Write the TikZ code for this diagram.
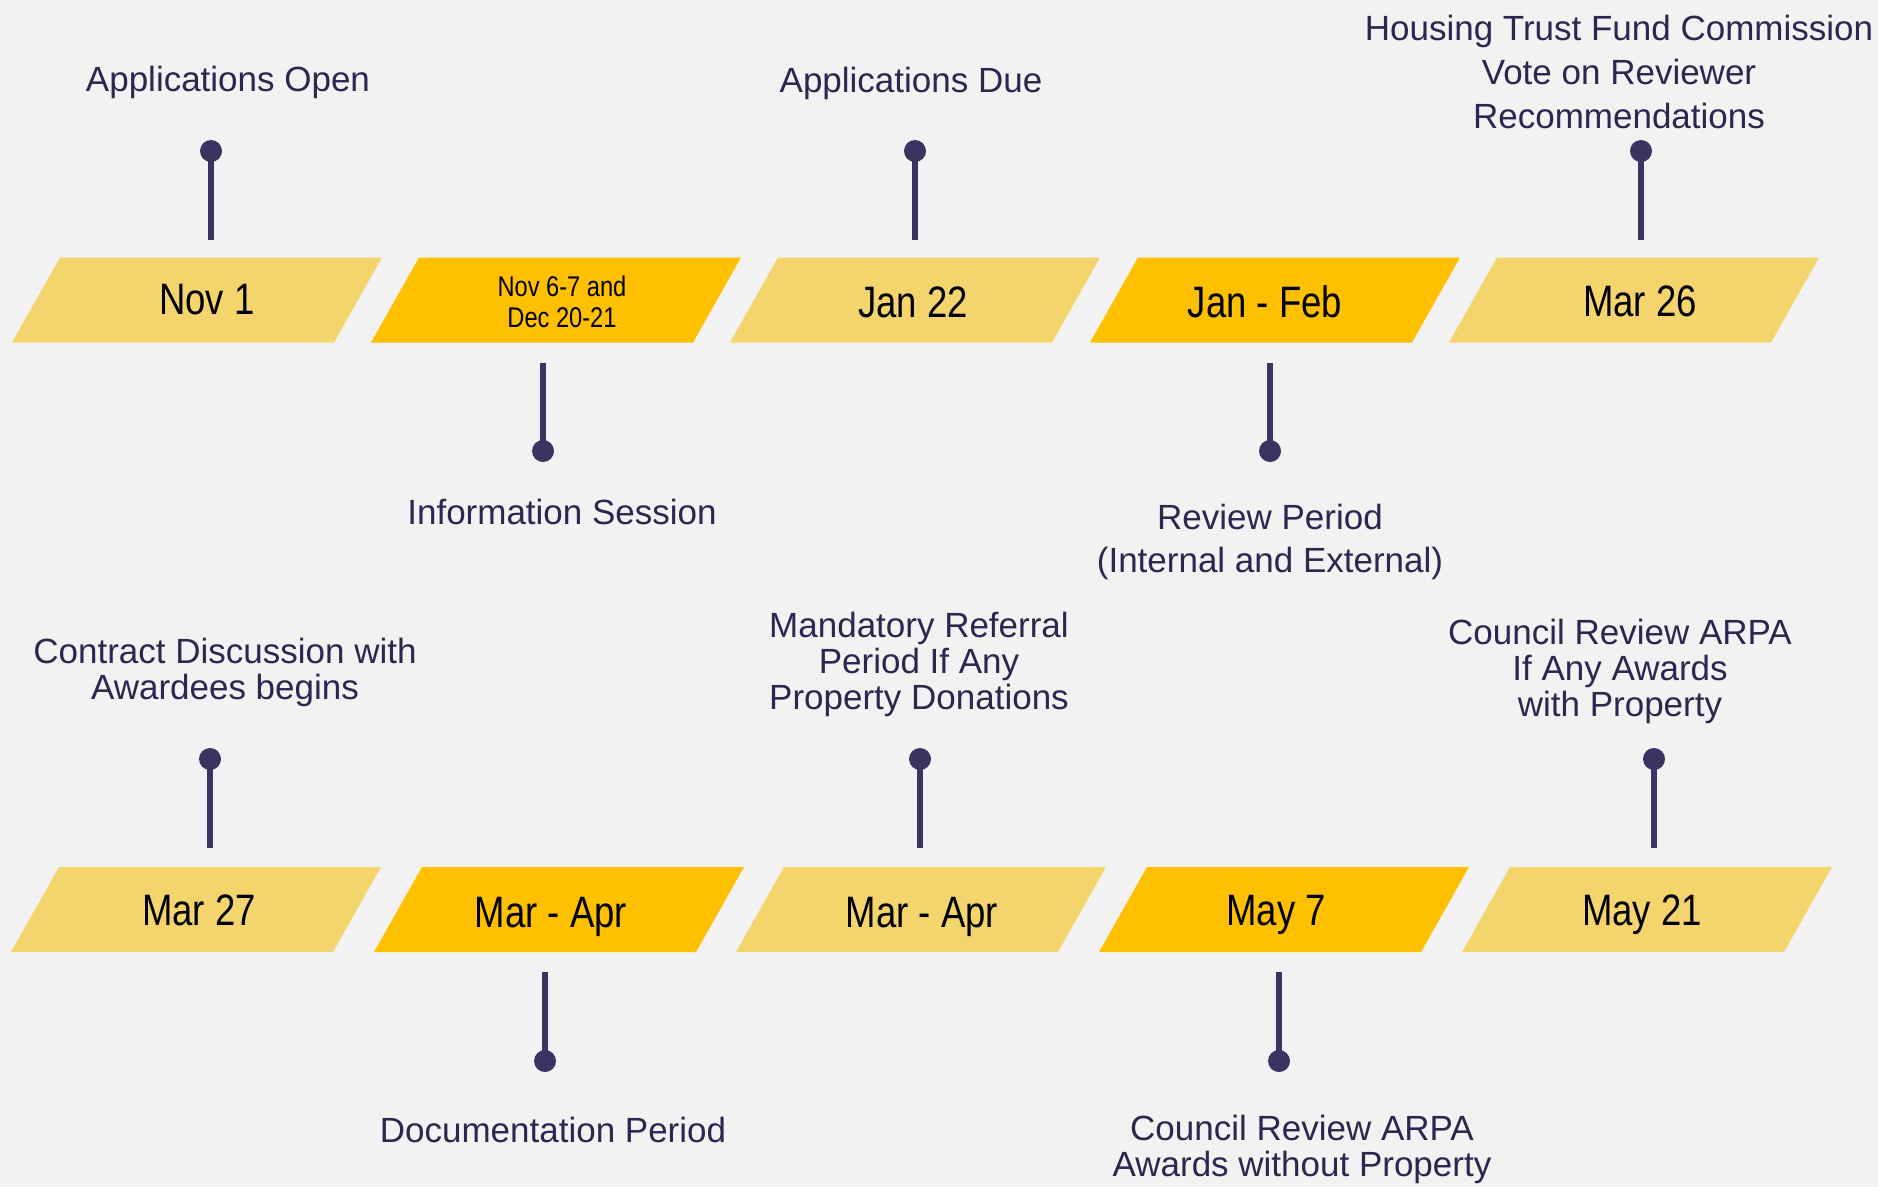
\documentclass[tikz,border=0pt]{standalone}
\usepackage{fontspec}
\setmainfont{Liberation Sans}
\newfontfamily\narrowfont{Liberation Sans}[FakeStretch=0.83]

\definecolor{bgcol}{HTML}{F2F2F2}
\definecolor{paleslab}{HTML}{F4D46C}
\definecolor{deepslab}{HTML}{FFC000}
\definecolor{pincol}{HTML}{3C3363}
\definecolor{labelcol}{HTML}{2B2850}

\tikzset{
  pics/slab/.style={code={
    \fill[#1] (-137,-42.5) -- (185,-42.5) -- (137,42.5) -- (-185,42.5) -- cycle;
  }},
  lbl/.style={text=labelcol, font=\fontsize{35}{36}\selectfont, align=center, inner sep=0pt},
  datelbl/.style={text=black, font=\narrowfont\fontsize{44}{44}\selectfont, inner sep=0pt},
  smalldate/.style={text=black, font=\narrowfont\fontsize{28.5}{31}\selectfont, align=center, inner sep=0pt},
  pindot/.style={circle, fill=pincol, minimum size=22pt, inner sep=0pt},
  stem/.style={draw=pincol, line width=6pt}
}

\begin{document}
\begin{tikzpicture}[x=1pt,y=-1pt]
  \fill[bgcol] (0,0) rectangle (1878,1187);
  \useasboundingbox (0,0) rectangle (1878,1187);

  % ---- first row of date slabs ----
  \pic at (197,300)  {slab=paleslab};
  \pic at (556,300)  {slab=deepslab};
  \pic at (915,300)  {slab=paleslab};
  \pic at (1275,300) {slab=deepslab};
  \pic at (1634,300) {slab=paleslab};

  \node[datelbl]   (d1) at (207,300)  {Nov 1};
  \node[smalldate] (d2) at (562,302)  {Nov 6-7 and\\Dec 20-21};
  \node[datelbl]   (d3) at (913,302)  {Jan 22};
  \node[datelbl]   (d4) at (1265,302) {Jan - Feb};
  \node[datelbl]   (d5) at (1640,301) {Mar 26};

  % ---- second row of date slabs ----
  \pic at (196,909.5)  {slab=paleslab};
  \pic at (559,909.5)  {slab=deepslab};
  \pic at (921,909.5)  {slab=paleslab};
  \pic at (1284,909.5) {slab=deepslab};
  \pic at (1647,909.5) {slab=paleslab};

  \node[datelbl] (d6)  at (199,910)  {Mar 27};
  \node[datelbl] (d7)  at (551,916.5)  {Mar - Apr};
  \node[datelbl] (d8)  at (922,916.5)  {Mar - Apr};
  \node[datelbl] (d9)  at (1276,914.5) {May 7};
  \node[datelbl] (d10) at (1642,914.5) {May 21};

  % ---- pins, first row ----
  \node[pindot] (p1) at (211,151) {};
  \coordinate (p1e) at (211,240);
  \draw[stem] (p1.center) -- (p1e);

  \node[pindot] (p3) at (915,151) {};
  \coordinate (p3e) at (915,240);
  \draw[stem] (p3.center) -- (p3e);

  \node[pindot] (p5) at (1641,151) {};
  \coordinate (p5e) at (1641,240);
  \draw[stem] (p5.center) -- (p5e);

  \node[pindot] (p2) at (543,451) {};
  \coordinate (p2s) at (543,363);
  \draw[stem] (p2s) -- (p2.center);

  \node[pindot] (p4) at (1270,451) {};
  \coordinate (p4s) at (1270,363);
  \draw[stem] (p4s) -- (p4.center);

  % ---- pins, second row ----
  \node[pindot] (p6) at (210,759) {};
  \coordinate (p6e) at (210,848);
  \draw[stem] (p6.center) -- (p6e);

  \node[pindot] (p8) at (920,759) {};
  \coordinate (p8e) at (920,848);
  \draw[stem] (p8.center) -- (p8e);

  \node[pindot] (p10) at (1654,759) {};
  \coordinate (p10e) at (1654,848);
  \draw[stem] (p10.center) -- (p10e);

  \node[pindot] (p7) at (545,1061) {};
  \coordinate (p7s) at (545,972);
  \draw[stem] (p7s) -- (p7.center);

  \node[pindot] (p9) at (1279,1061) {};
  \coordinate (p9s) at (1279,972);
  \draw[stem] (p9s) -- (p9.center);

  % ---- milestone labels ----
  \node[lbl] (l1) at (228,82.5)  {Applications Open};
  \node[lbl] (l3) at (911,83.5)  {Applications Due};
  \node[lbl, font=\fontsize{35}{44}\selectfont] (l5) at (1619,72)
    {Housing Trust Fund Commission\\Vote on Reviewer\\Recommendations};
  \node[lbl] (l2) at (562,512) {Information Session};
  \node[lbl, font=\fontsize{35}{43}\selectfont] (l4) at (1270,541.5)
    {Review Period\\(Internal and External)};

  \node[lbl] (l6) at (225,672.5) {Contract Discussion with\\Awardees begins};
  \node[lbl] (l8) at (919,664.5) {Mandatory Referral\\Period If Any\\Property Donations};
  \node[lbl] (l10) at (1620,671.5) {Council Review ARPA\\If Any Awards\\with Property};
  \node[lbl] (l7) at (553,1129.5) {Documentation Period};
  \node[lbl] (l9) at (1302,1149.5) {Council Review ARPA\\Awards without Property};
\end{tikzpicture}
\end{document}
